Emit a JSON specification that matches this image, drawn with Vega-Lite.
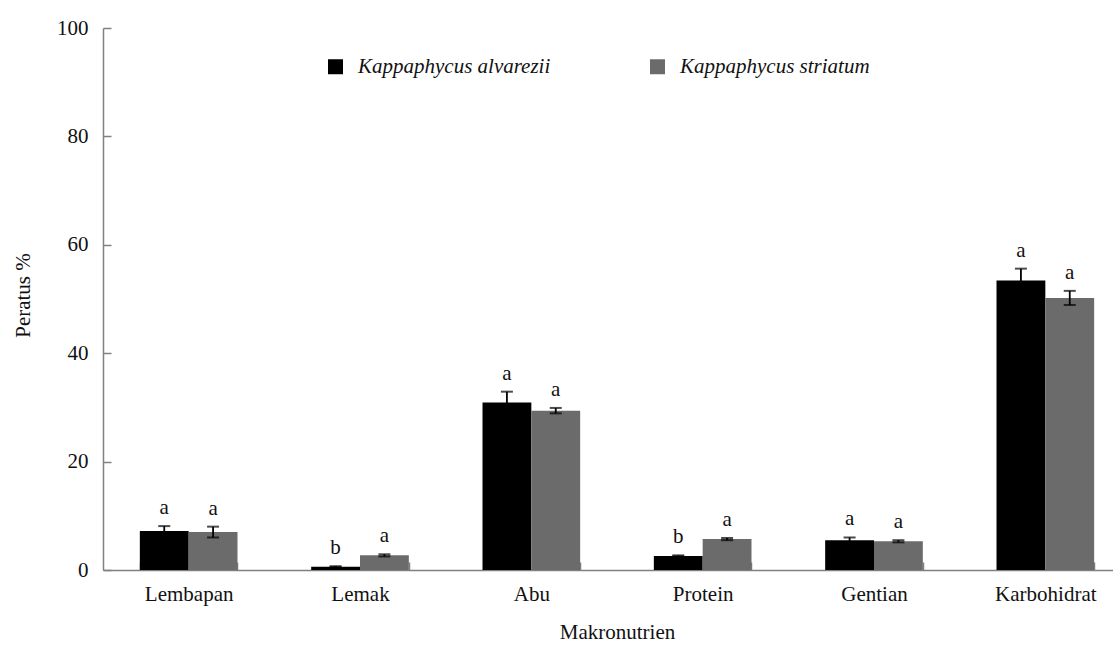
{
  "$schema": "https://vega.github.io/schema/vega-lite/v6.json",
  "width": 1000,
  "height": 542,
  "autosize": {"type": "none"},
  "padding": {"left": 103, "top": 28, "right": 10, "bottom": 76},
  "background": "white",
  "config": {
    "font": "Liberation Serif",
    "view": {"stroke": null},
    "axis": {"grid": false, "domainColor": "#808080", "tickColor": "#808080", "labelColor": "#111", "titleColor": "#111", "labelFont": "Liberation Serif", "titleFont": "Liberation Serif", "labelFontSize": 21, "titleFontSize": 21, "titleFontWeight": "normal", "domainWidth": 1.5, "tickWidth": 1.5}
  },
  "data": {
    "values": [
      {"cat": "Lembapan", "sp": "Kappaphycus alvarezii", "value": 7.2, "lo": 6.3, "hi": 8.1, "sig": "a"},
      {"cat": "Lembapan", "sp": "Kappaphycus striatum", "value": 7.0, "lo": 6.0, "hi": 8.0, "sig": "a"},
      {"cat": "Lemak", "sp": "Kappaphycus alvarezii", "value": 0.6, "lo": 0.5, "hi": 0.7, "sig": "b"},
      {"cat": "Lemak", "sp": "Kappaphycus striatum", "value": 2.7, "lo": 2.5, "hi": 2.9, "sig": "a"},
      {"cat": "Abu", "sp": "Kappaphycus alvarezii", "value": 30.9, "lo": 28.9, "hi": 32.9, "sig": "a"},
      {"cat": "Abu", "sp": "Kappaphycus striatum", "value": 29.4, "lo": 28.9, "hi": 29.9, "sig": "a"},
      {"cat": "Protein", "sp": "Kappaphycus alvarezii", "value": 2.6, "lo": 2.5, "hi": 2.7, "sig": "b"},
      {"cat": "Protein", "sp": "Kappaphycus striatum", "value": 5.7, "lo": 5.5, "hi": 5.9, "sig": "a"},
      {"cat": "Gentian", "sp": "Kappaphycus alvarezii", "value": 5.5, "lo": 5.0, "hi": 6.0, "sig": "a"},
      {"cat": "Gentian", "sp": "Kappaphycus striatum", "value": 5.3, "lo": 5.1, "hi": 5.5, "sig": "a"},
      {"cat": "Karbohidrat", "sp": "Kappaphycus alvarezii", "value": 53.4, "lo": 51.2, "hi": 55.6, "sig": "a"},
      {"cat": "Karbohidrat", "sp": "Kappaphycus striatum", "value": 50.2, "lo": 48.9, "hi": 51.5, "sig": "a"}
    ]
  },
  "encoding": {
    "x": {
      "field": "cat", "type": "nominal",
      "sort": ["Lembapan", "Lemak", "Abu", "Protein", "Gentian", "Karbohidrat"],
      "scale": {"range": [0, 1028], "paddingInner": 0.43, "paddingOuter": 0.215},
      "axis": {"title": "Makronutrien", "labelAngle": 0, "tickBand": "extent", "tickSize": -8, "labelPadding": 21, "titleY": 68, "titleBaseline": "alphabetic"}
    },
    "xOffset": {"field": "sp", "type": "nominal", "sort": ["Kappaphycus alvarezii", "Kappaphycus striatum"]}
  },
  "layer": [
    {
      "mark": {"type": "bar"},
      "encoding": {
        "y": {
          "field": "value", "type": "quantitative",
          "scale": {"domain": [0, 100], "nice": false},
          "axis": {"title": "Peratus %", "values": [0, 20, 40, 60, 80, 100], "tickSize": -8, "labelPadding": 23, "titleX": -80, "titleY": 267, "titleAngle": -90, "titleAlign": "center", "titleBaseline": "middle"}
        },
        "color": {
          "field": "sp", "type": "nominal",
          "scale": {"domain": ["Kappaphycus alvarezii", "Kappaphycus striatum"], "range": ["#000000", "#6b6b6b"]},
          "legend": {
            "title": null, "orient": "none", "legendX": 222, "legendY": 28, "direction": "horizontal",
            "symbolType": "square", "symbolSize": 225, "symbolStrokeWidth": 0,
            "labelFont": "Liberation Serif", "labelFontStyle": "italic", "labelFontSize": 21, "labelColor": "#111", "labelLimit": 0,
            "columnPadding": 96, "labelOffset": 12, "padding": 0
          }
        }
      }
    },
    {
      "mark": {"type": "rule", "color": "#000", "strokeWidth": 1.8},
      "encoding": {"y": {"field": "lo", "type": "quantitative"}, "y2": {"field": "hi"}}
    },
    {
      "mark": {"type": "tick", "color": "#000", "size": 12, "thickness": 2},
      "encoding": {"y": {"field": "hi", "type": "quantitative"}}
    },
    {
      "mark": {"type": "tick", "color": "#000", "size": 12, "thickness": 2},
      "encoding": {"y": {"field": "lo", "type": "quantitative"}}
    },
    {
      "mark": {"type": "text", "font": "Liberation Serif", "fontSize": 21, "baseline": "alphabetic", "dy": -12, "color": "#111"},
      "encoding": {"y": {"field": "hi", "type": "quantitative"}, "text": {"field": "sig"}}
    }
  ]
}
